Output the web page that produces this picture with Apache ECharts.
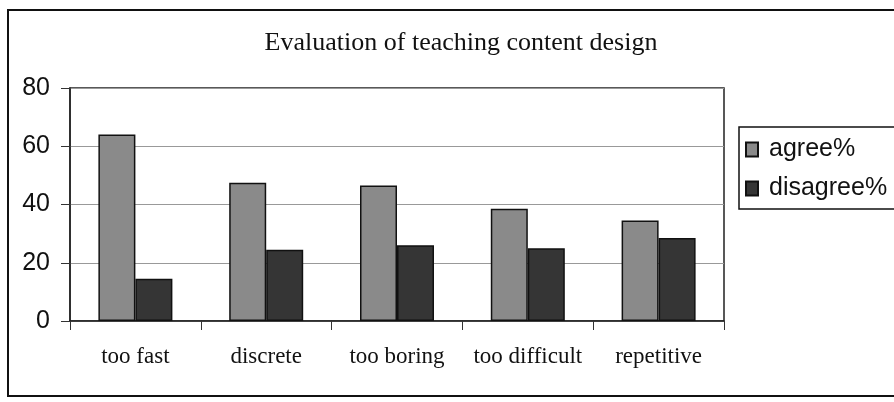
<!DOCTYPE html>
<html>
<head>
<meta charset="utf-8">
<script src="https://cdn.jsdelivr.net/npm/echarts@6/dist/echarts.min.js"></script>
<style>
  html, body { margin: 0; padding: 0; background: #fff; }
  #chart { width: 894px; height: 402px; }
</style>
</head>
<body>
<div id="chart"></div>
<script>
// data
const categories = ["too fast", "discrete", "too boring", "too difficult", "repetitive"];
const agree = [64, 47.5, 46.5, 38.5, 34.5];
const disagree = [14.5, 24.5, 26, 25, 28.5];
const yTicks = [0, 20, 40, 60, 80];

const myChart = echarts.init(document.getElementById("chart"));
const option = {
  backgroundColor: "#fff",
  animation: false,
  title: {
    text: "Evaluation of teaching content design",
    left: 456,
    top: 25,
    textAlign: "center",
    textStyle: {
      fontFamily: "Liberation Serif",
      fontWeight: "normal",
      fontSize: 26,
      color: "#111",
    },
  },
  legend: {
    orient: "vertical",
    left: 739,
    top: 127,
    itemWidth: 12,
    itemHeight: 14,
    itemGap: 14,
    padding: [10, 20, 8, 6],
    borderColor: "#111",
    borderWidth: 1.5,
    backgroundColor: "#fff",
    icon: "rect",
    textStyle: {
      fontFamily: "Liberation Sans",
      fontSize: 25,
      color: "#111",
      padding: [0, 0, 0, 6],
    },
  },
  graphic: [
    {
      // outer frame
      type: "rect",
      shape: { x: 8, y: 10, width: 900, height: 386 },
      style: { fill: "none", stroke: "#111", lineWidth: 2 },
      z: 0,
    },
  ],
  grid: {
    left: 70,
    right: 170,
    top: 88,
    bottom: 81,
    show: true,
    borderColor: "#222",
    borderWidth: 1.5,
  },
  xAxis: {
    type: "category",
    data: categories,
    axisLine: { lineStyle: { color: "#222", width: 1.5 } },
    axisTick: { show: true, interval: 0, length: 9, alignWithLabel: false, lineStyle: { color: "#333" } },
    axisLabel: {
      interval: 0,
      hideOverlap: false,
      margin: 24,
      fontFamily: "Liberation Serif",
      fontSize: 23,
      color: "#111",
    },
  },
  yAxis: {
    type: "value",
    min: yTicks[0],
    max: yTicks[yTicks.length - 1],
    interval: 20,
    axisLine: { show: true, lineStyle: { color: "#222", width: 1.5 } },
    axisTick: { show: true, length: 9, lineStyle: { color: "#333" } },
    axisLabel: {
      margin: 20,
      fontFamily: "Liberation Sans",
      fontSize: 25,
      color: "#111",
    },
    splitLine: { lineStyle: { color: "#999", width: 1 } },
  },
  series: [
    {
      name: "agree%",
      type: "bar",
      data: agree,
      barWidth: 37,
      barGap: "0%",
      itemStyle: { color: "#8a8a8a", borderColor: "#111", borderWidth: 1.5 },
    },
    {
      name: "disagree%",
      type: "bar",
      data: disagree,
      barWidth: 37,
      itemStyle: { color: "#353535", borderColor: "#111", borderWidth: 1.5 },
    },
  ],
};
option && myChart.setOption(option);
</script>
</body>
</html>
